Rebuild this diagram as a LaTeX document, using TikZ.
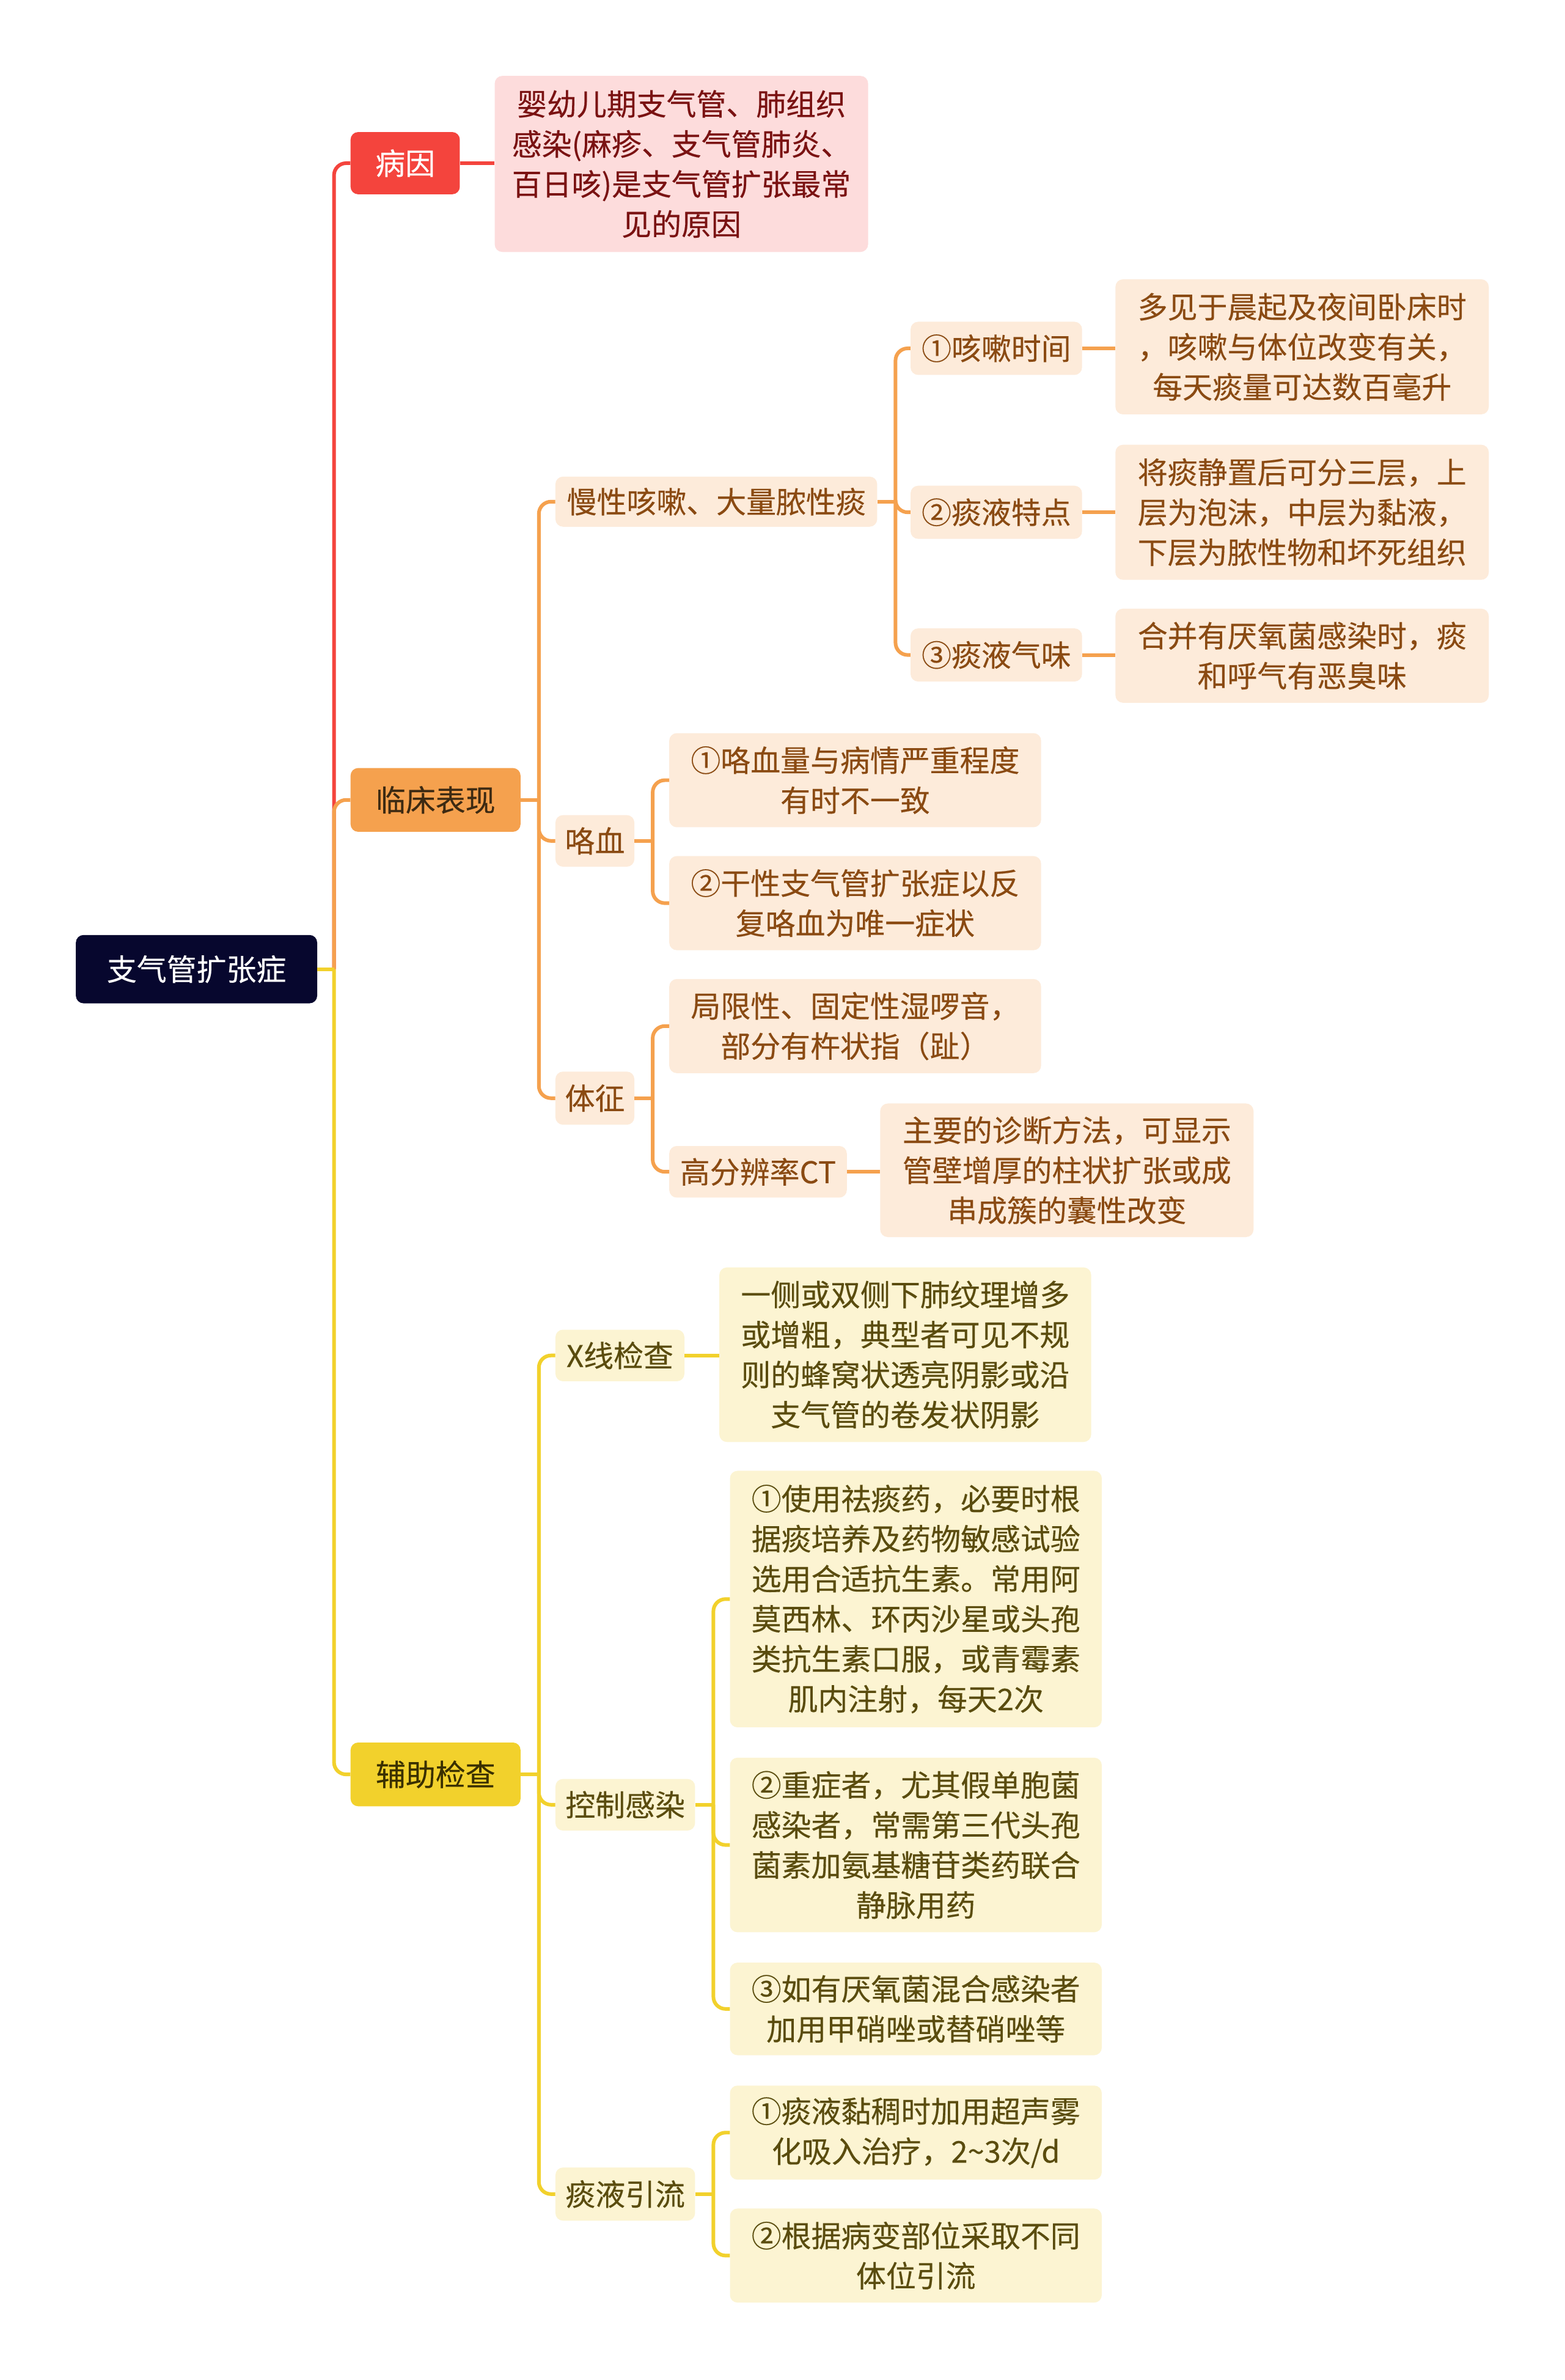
\documentclass[tikz,border=0pt]{standalone}
\usepackage{fontspec}
\setmainfont[FakeBold=0.3]{Noto Sans CJK SC}
\usetikzlibrary{calc}
\newdimen\myu \myu=2.483pt
\definecolor{rootc}{HTML}{07072E}
\definecolor{redc}{HTML}{F4443D}
\definecolor{redl}{HTML}{FDDCDC}
\definecolor{redt}{HTML}{7A1212}
\definecolor{orc}{HTML}{F5A14E}
\definecolor{orl}{HTML}{FDEBDA}
\definecolor{ort}{HTML}{8A4A12}
\definecolor{ordk}{HTML}{3D2A12}
\definecolor{yec}{HTML}{F2D12C}
\definecolor{yel}{HTML}{FCF4D2}
\definecolor{yet}{HTML}{5A4C0E}
\definecolor{yedk}{HTML}{3A3000}
\tikzset{
  box/.style={rounded corners=5\myu, inner sep=0pt, align=center,
    font={\fontsize{48.9pt}{65.5pt}\selectfont}},
  sz/.style 2 args={minimum width=#1\myu, minimum height=#2\myu},
  rootbox/.style={box, fill=rootc, text=white},
  redbox/.style={box, fill=redc, text=white},
  redleaf/.style={box, fill=redl, text=redt},
  orbox/.style={box, fill=orc, text=ordk},
  orleaf/.style={box, fill=orl, text=ort},
  yebox/.style={box, fill=yec, text=yedk},
  yeleaf/.style={box, fill=yel, text=yet},
  lnR/.style={draw=redc, line width=2.4\myu, rounded corners=8\myu},
  lnO/.style={draw=orc, line width=2.4\myu, rounded corners=8\myu},
  lnY/.style={draw=yec, line width=2.4\myu, rounded corners=8\myu},
}
\begin{document}
\begin{tikzpicture}[x=2.483pt, y=-2.483pt]
\useasboundingbox (0,0) rectangle (1031,1568);
\fill[white] (0,0) rectangle (1031,1568);

% nodes
\node[rootbox, sz={159}{45}] (root) at (129.5,638.5) {支气管扩张症};
\node[redbox, sz={72}{41}] (by) at (267,107.5) {病因};
\node[redleaf, sz={246}{116}] (byl) at (449,108) {婴幼儿期支气管、肺组织\\感染(麻疹、支气管肺炎、\\百日咳)是支气管扩张最常\\见的原因};
\node[orbox, sz={112}{42}] (lc) at (287,527) {临床表现};
\node[yebox, sz={112}{42}] (fz) at (287,1169) {辅助检查};

\node[orleaf, sz={212}{33}] (mx) at (472,330.5) {慢性咳嗽、大量脓性痰};
\node[orleaf, sz={52}{34}] (kx) at (392,554) {咯血};
\node[orleaf, sz={52}{35}] (tz) at (392,723.5) {体征};

\node[orleaf, sz={113}{35}] (q1) at (656.5,229.5) {①咳嗽时间};
\node[orleaf, sz={113}{35}] (q2) at (656.5,337.5) {②痰液特点};
\node[orleaf, sz={113}{35}] (q3) at (656.5,431.5) {③痰液气味};
\node[orleaf, sz={246}{89}] (f1) at (858,228.5) {多见于晨起及夜间卧床时\\，咳嗽与体位改变有关，\\每天痰量可达数百毫升};
\node[orleaf, sz={246}{89}] (f2) at (858,337.5) {将痰静置后可分三层，上\\层为泡沫，中层为黏液，\\下层为脓性物和坏死组织};
\node[orleaf, sz={246}{62}] (f3) at (858,432) {合并有厌氧菌感染时，痰\\和呼气有恶臭味};

\node[orleaf, sz={245}{62}] (k1) at (563.5,514) {①咯血量与病情严重程度\\有时不一致};
\node[orleaf, sz={245}{62}] (k2) at (563.5,595) {②干性支气管扩张症以反\\复咯血为唯一症状};
\node[orleaf, sz={245}{62}] (t1) at (563.5,676) {局限性、固定性湿啰音，\\部分有杵状指（趾）};
\node[orleaf, sz={117}{34}] (ct) at (499.5,772) {高分辨率CT};
\node[orleaf, sz={246}{88}] (ctl) at (703,771) {主要的诊断方法，可显示\\管壁增厚的柱状扩张或成\\串成簇的囊性改变};

\node[yeleaf, sz={85}{34}] (xx) at (408.5,893) {X线检查};
\node[yeleaf, sz={245}{115}] (xl) at (596.5,892.5) {一侧或双侧下肺纹理增多\\或增粗，典型者可见不规\\则的蜂窝状透亮阴影或沿\\支气管的卷发状阴影};
\node[yeleaf, sz={92}{34}] (kr) at (412,1189) {控制感染};
\node[yeleaf, sz={245}{169}] (c1) at (603.5,1053.5) {①使用祛痰药，必要时根\\据痰培养及药物敏感试验\\选用合适抗生素。常用阿\\莫西林、环丙沙星或头孢\\类抗生素口服，或青霉素\\肌内注射，每天2次};
\node[yeleaf, sz={245}{115}] (c2) at (603.5,1215.5) {②重症者，尤其假单胞菌\\感染者，常需第三代头孢\\菌素加氨基糖苷类药联合\\静脉用药};
\node[yeleaf, sz={245}{61}] (c3) at (603.5,1323.5) {③如有厌氧菌混合感染者\\加用甲硝唑或替硝唑等};
\node[yeleaf, sz={92}{35}] (ty) at (412,1445.5) {痰液引流};
\node[yeleaf, sz={245}{62}] (d1) at (603.5,1405) {①痰液黏稠时加用超声雾\\化吸入治疗，2\textasciitilde 3次/d};
\node[yeleaf, sz={245}{62}] (d2) at (603.5,1486) {②根据病变部位采取不同\\体位引流};

% connectors: red
\draw[lnR] ($(root.east)+(11,0)$) |- (by.west);
\draw[lnR] (by.east) -- (by.east -| byl.west);
% orange
\draw[lnO] ($(root.east)+(11,0)$) |- (lc.west);
\draw[lnO] (lc.east) -- ++(12,0);
\foreach \c in {mx,kx,tz} \draw[lnO] ($(lc.east)+(12,0)$) |- (\c.west);
\draw[lnO] (mx.east) -- ++(12,0);
\foreach \c in {q1,q2,q3} \draw[lnO] ($(mx.east)+(12,0)$) |- (\c.west);
\draw[lnO] (q1.east) -- (q1.east -| f1.west);
\draw[lnO] (q2.east) -- (q2.east -| f2.west);
\draw[lnO] (q3.east) -- (q3.east -| f3.west);
\draw[lnO] (kx.east) -- ++(12,0);
\foreach \c in {k1,k2} \draw[lnO] ($(kx.east)+(12,0)$) |- (\c.west);
\draw[lnO] (tz.east) -- ++(12,0);
\foreach \c in {t1,ct} \draw[lnO] ($(tz.east)+(12,0)$) |- (\c.west);
\draw[lnO] (ct.east) -- (ct.east -| ctl.west);
% yellow
\draw[lnY] ($(root.east)+(11,0)$) |- (fz.west);
\draw[lnY] (root.east) -- ++(11,0);
\draw[lnY] (fz.east) -- ++(12,0);
\foreach \c in {xx,kr,ty} \draw[lnY] ($(fz.east)+(12,0)$) |- (\c.west);
\draw[lnY] (xx.east) -- (xx.east -| xl.west);
\draw[lnY] (kr.east) -- ++(12,0);
\foreach \c in {c1,c2,c3} \draw[lnY] ($(kr.east)+(12,0)$) |- (\c.west);
\draw[lnY] (ty.east) -- ++(12,0);
\foreach \c in {d1,d2} \draw[lnY] ($(ty.east)+(12,0)$) |- (\c.west);
\end{tikzpicture}
\end{document}
